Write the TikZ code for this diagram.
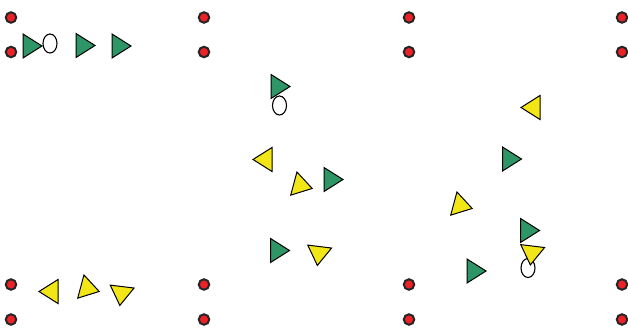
\documentclass[tikz,border=0pt]{standalone}
\usepackage{xcolor}
\usepackage{tikz}
\usetikzlibrary{shapes.geometric}

\definecolor{pitchgreen}{RGB}{46,150,102}
\definecolor{bibyellow}{RGB}{242,230,22}
\definecolor{conered}{RGB}{236,34,38}

\tikzset{
  pics/player/.style={code={
    \draw[fill=#1, line width=1pt, line join=miter]
      (-9.5,12) -- (9.5,0) -- (-9.5,-12) -- cycle;
  }},
  cone/.style={circle, draw=black!85, fill=conered, line width=2pt,
               minimum size=10.5pt, inner sep=0pt},
  ball/.style={ellipse, draw, fill=white, line width=1.1pt,
               minimum width=14pt, minimum height=19pt, inner sep=0pt}
}

\begin{document}
\begin{tikzpicture}[x=1pt, y=-1pt]
  \useasboundingbox (0,0) rectangle (628,331);

  % cones
  \foreach \cx/\cn in {11/a, 204/b, 409/c, 622/d}{
    \node[cone] (cone\cn1) at (\cx,17.5) {};
    \node[cone] (cone\cn2) at (\cx,52) {};
    \node[cone] (cone\cn3) at (\cx,284.5) {};
    \node[cone] (cone\cn4) at (\cx,319.5) {};
  }

  % balls
  \node[ball] (ball1) at (50,43.5) {};
  \node[ball] (ball2) at (279.5,105.5) {};
  \node[ball] (ball3) at (528,268) {};

  % green team
  \pic[name=g1] at (32.5,46) {player=pitchgreen};
  \pic[name=g2] at (85.5,45.5) {player=pitchgreen};
  \pic[name=g3] at (121.5,46) {player=pitchgreen};
  \pic[name=g4] at (280.5,86.5) {player=pitchgreen};
  \pic[name=g5] at (333.5,179.5) {player=pitchgreen};
  \pic[name=g6] at (280,250.5) {player=pitchgreen};
  \pic[name=g7] at (512,159) {player=pitchgreen};
  \pic[name=g8] at (530,230.5) {player=pitchgreen};
  \pic[name=g9] at (476.5,271) {player=pitchgreen};

  % yellow team
  \pic[name=y1, rotate=180] at (262.5,159.5) {player=bibyellow};
  \pic[name=y2, rotate=180] at (530.5,107.5) {player=bibyellow};
  \pic[name=y3, rotate=180] at (48.5,291.5) {player=bibyellow};
  \pic[name=y4, rotate=-15] at (303,186) {player=bibyellow};
  \pic[name=y5, rotate=-15] at (463,206) {player=bibyellow};
  \pic[name=y6, rotate=-15] at (90,289) {player=bibyellow};
  \pic[name=y7, rotate=-97] at (531.5,255.5) {player=bibyellow};
  \pic[name=y8, rotate=-97] at (121,296) {player=bibyellow};
  \pic[name=y9, rotate=-97] at (318.5,256) {player=bibyellow};
\end{tikzpicture}
\end{document}
